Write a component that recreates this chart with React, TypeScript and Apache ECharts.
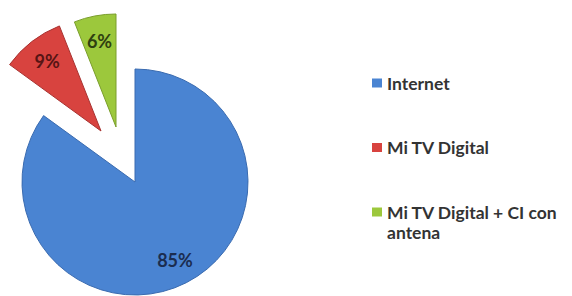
import React, { useEffect, useRef } from 'react';
import * as echarts from 'echarts';

// ---- data ----
const categories = ['Internet', 'Mi TV Digital', 'Mi TV Digital + CI con antena'];
const values = [85, 9, 6];
const legendLabels = ['Internet', 'Mi TV Digital', 'Mi TV Digital + CI con'];
const legendSecondLine = 'antena';

// ---- styles ----
const colors = ['#4A84D2', '#D8433F', '#9CC83C'];
const borderColors = ['#3A6BB0', '#A83230', '#7A9E2C'];
const labelColors = ['#1B2D50', '#561414', '#2F4010'];
// pie centre used for each slice (red and green slices are pulled out)
const centers: [number, number][] = [[135, 182], [101, 131], [116, 127]];
const R = 113;
const LABEL_R0 = 57;
const FONT = 'Lato';

function pieFor(k: number, labelLayer: boolean): any {
  return {
    type: 'pie',
    silent: true,
    startAngle: 90,
    clockwise: true,
    center: centers[k],
    radius: labelLayer ? [LABEL_R0, R] : [0, R],
    avoidLabelOverlap: false,
    labelLine: { show: false },
    z: labelLayer ? 3 : 2,
    data: categories.map((name, i) => ({
      name,
      value: values[i],
      itemStyle:
        labelLayer || i !== k
          ? { color: 'transparent', borderWidth: 0 }
          : { color: colors[i], borderColor: borderColors[i], borderWidth: 1 },
      label:
        labelLayer && i === k
          ? {
              show: true,
              position: 'inside',
              formatter: '{c}%',
              color: labelColors[i],
              fontSize: 18,
              fontWeight: 'bold',
              fontFamily: FONT,
              textBorderWidth: 0,
            }
          : { show: false },
    })),
  };
}

export default function App() {
  const ref = useRef<HTMLDivElement>(null);
  useEffect(() => {
    document.body.style.margin = '0';
    const chart = echarts.init(ref.current!, null, { renderer: 'svg' });
    chart.setOption({
      animation: false,
      backgroundColor: '#ffffff',
      legend: {
        orient: 'vertical',
        left: 372,
        top: 72,
        padding: 0,
        itemWidth: 10,
        itemHeight: 9,
        itemGap: 42.5,
        icon: 'rect',
        selectedMode: false,
        data: categories.map((name, i) => ({ name, itemStyle: { color: colors[i], borderWidth: 0 } })),
        formatter: (name: string) => legendLabels[categories.indexOf(name)],
        textStyle: { fontFamily: FONT, fontWeight: 'bold', fontSize: 17.5, color: '#333333', lineHeight: 22 },
      },
      graphic: [
        {
          type: 'text',
          x: 387,
          y: 232,
          style: { text: legendSecondLine, fill: '#333333', font: `bold 17.5px ${FONT}`, verticalAlign: 'middle' },
        },
      ],
      series: [pieFor(0, false), pieFor(1, false), pieFor(2, false), pieFor(0, true), pieFor(1, true), pieFor(2, true)],
    });
    return () => chart.dispose();
  }, []);
  return <div ref={ref} style={{ position: 'absolute', left: 0, top: 0, width: 572, height: 296 }} />;
}
